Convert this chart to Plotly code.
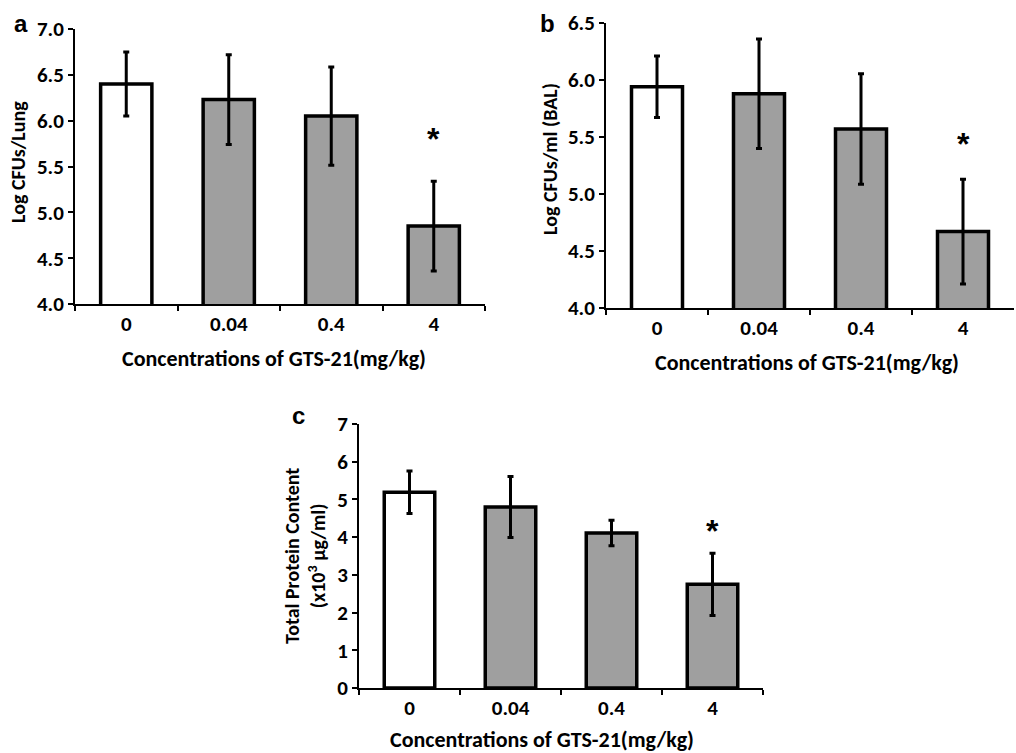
import plotly.graph_objects as go

W, H = 1016, 753

categories = ["0", "0.04", "0.4", "4"]

# Panel a: Log CFUs/Lung
a_values = [6.40, 6.23, 6.05, 4.85]
a_errors = [0.35, 0.49, 0.535, 0.49]
# Panel b: Log CFUs/ml (BAL)
b_values = [5.94, 5.88, 5.57, 4.67]
b_errors = [0.27, 0.48, 0.485, 0.46]
# Panel c: Total protein content (x10^3 ug/ml)
c_values = [5.19, 4.80, 4.11, 2.75]
c_errors = [0.565, 0.81, 0.34, 0.825]

bar_colors = ["#ffffff", "#9f9f9f", "#9f9f9f", "#9f9f9f"]

FONT = "Carlito, Lato, Liberation Sans, sans-serif"


def px_x(p):
    return p / W


def px_y(p):
    return 1 - p / H


fig = go.Figure()

panels = [
    ("", a_values, a_errors),
    ("2", b_values, b_errors),
    ("3", c_values, c_errors),
]
for suf, vals, errs in panels:
    fig.add_trace(go.Bar(
        x=categories, y=vals,
        xaxis="x" + suf, yaxis="y" + suf,
        width=0.5,
        marker=dict(color=bar_colors, line=dict(color="black", width=3.5)),
        error_y=dict(type="data", array=errs, visible=True, color="black",
                     thickness=3, width=3),
        showlegend=False,
        hoverinfo="x+y",
    ))

tickf = dict(family=FONT, size=21, color="black", weight="bold")
xcommon = dict(
    type="category", showline=True, linecolor="black", linewidth=2,
    ticks="outside", tickson="boundaries", ticklen=5, tickwidth=2,
    tickcolor="black", showgrid=False, zeroline=False,
    tickfont=tickf, automargin=False, range=[-0.5, 3.5],
)
ycommon = dict(
    showline=True, linecolor="black", linewidth=2,
    ticks="outside", ticklen=5, tickwidth=2, tickcolor="black",
    showgrid=False, zeroline=False, tickfont=tickf, automargin=False,
)

fig.update_layout(
    width=W, height=H,
    margin=dict(l=0, r=0, t=0, b=0),
    paper_bgcolor="white", plot_bgcolor="white",
    bargap=0.5,
    xaxis=dict(xcommon, domain=[px_x(75), px_x(485)], anchor="y"),
    yaxis=dict(ycommon, domain=[px_y(304), px_y(29)], anchor="x",
               range=[4.0, 7.0], dtick=0.5, tickformat=".1f"),
    xaxis2=dict(xcommon, domain=[px_x(606), px_x(1014)], anchor="y2"),
    yaxis2=dict(ycommon, domain=[px_y(308), px_y(23)], anchor="x2",
                range=[4.0, 6.5], dtick=0.5, tickformat=".1f"),
    xaxis3=dict(xcommon, domain=[px_x(359), px_x(763)], anchor="y3"),
    yaxis3=dict(ycommon, domain=[px_y(688), px_y(424)], anchor="x3",
                range=[0, 7], dtick=1),
)

tfont = dict(family=FONT, size=22, color="black", weight="bold")
yfont = dict(family=FONT, size=20, color="black", weight="bold")
lfont = dict(family="Liberation Sans", size=24, color="black", weight="bold")
xtitle = "Concentrations of GTS-21(mg/kg)"
annotations = [
    # panel labels
    dict(text="a", x=px_x(21), y=px_y(24), font=lfont),
    dict(text="b", x=px_x(547), y=px_y(24), font=lfont),
    dict(text="c", x=px_x(298), y=px_y(416), font=lfont),
    # axis titles
    dict(text=xtitle, x=px_x(274), y=px_y(358), font=tfont),
    dict(text=xtitle, x=px_x(807), y=px_y(362), font=tfont),
    dict(text=xtitle, x=px_x(542), y=-0.003, yanchor="bottom", font=tfont),
    dict(text="Log CFUs/Lung", x=px_x(18), y=px_y(162), textangle=-90,
         font=yfont),
    dict(text="Log CFUs/ml (BAL)", x=px_x(550), y=px_y(159), textangle=-90,
         font=yfont),
    dict(text="Total Protein Content<br>(x10<sup>3</sup> µg/ml)", x=px_x(305),
         y=px_y(556), textangle=-90, font=yfont),
]
for ann in annotations:
    ann.setdefault("yanchor", "middle")
    ann.update(xref="paper", yref="paper", showarrow=False, xanchor="center")
    fig.add_annotation(**ann)

# significance asterisks (category index 3 = "4")
afont = dict(family="Liberation Sans", size=32, color="black", weight="bold")
for xr, yr, yv in [("x", "y", 5.80), ("x2", "y2", 5.44), ("x3", "y3", 4.15)]:
    fig.add_annotation(text="*", x=3, y=yv, xref=xr, yref=yr, showarrow=False,
                       font=afont, xanchor="center", yanchor="middle")

# remove the default 8px page margin so the figure fills the window exactly
fig.write_html(
    "out.html",
    config={"displayModeBar": False},
    post_script="document.body.style.margin='0';document.body.style.overflow='hidden';",
)
